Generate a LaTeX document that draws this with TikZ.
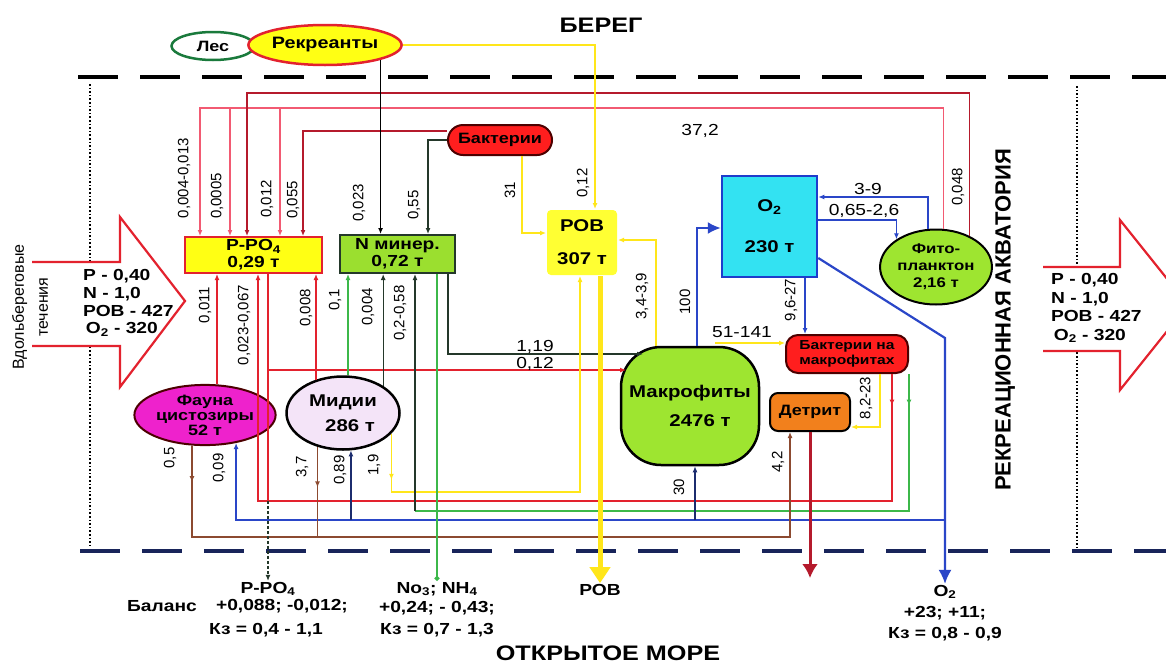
\documentclass[tikz,border=0pt]{standalone}
\usepackage{fontspec}
\setmainfont{Liberation Sans}[FakeStretch=1.2]
\newfontfamily\rotfont{Liberation Sans}
\usetikzlibrary{arrows.meta,decorations.markings,shapes.geometric}
\definecolor{redl}{HTML}{E3222E}
\definecolor{pinkl}{HTML}{F25A72}
\definecolor{dred}{HTML}{B51A2C}
\definecolor{grnl}{HTML}{3CB84A}
\definecolor{bluel}{HTML}{2A46C8}
\definecolor{navyl}{HTML}{1C2C6E}
\definecolor{navyd}{HTML}{18245A}
\definecolor{brnl}{HTML}{8C4A30}
\definecolor{yell}{HTML}{FFE61A}
\definecolor{dkl}{HTML}{24382A}
\definecolor{ppoy}{HTML}{FFFF14}
\definecolor{ngrn}{HTML}{9BDF2F}
\definecolor{baktr}{HTML}{FF1E1E}
\definecolor{rovy}{HTML}{FFFF33}
\definecolor{otwoc}{HTML}{33E2F2}
\definecolor{otwob}{HTML}{1E3CCC}
\definecolor{fitog}{HTML}{9EE530}
\definecolor{detro}{HTML}{F2801C}
\definecolor{faunam}{HTML}{EE22CC}
\definecolor{midiil}{HTML}{F4E4F8}
\definecolor{lesg}{HTML}{1A7A3C}
\newcommand\fsz[2]{\fontsize{#1}{#2}\selectfont}
\tikzset{
  pool/.style   = {draw, line width=2pt, align=center, inner sep=1pt,
                   font=\bfseries\fsz{16}{17}},
  btxt/.style   = {align=center, inner sep=1pt, font=\bfseries\fsz{16}{18}},
  lbl/.style    = {inner sep=1pt, font=\fsz{16}{16}},
  vlbl/.style   = {inner sep=1pt, rotate=90, font=\rotfont\fsz{15}{15}},
  wire/.style   = {line width=1.3pt},
  tip/.style    = {-{Latex[length=6pt,width=5pt]}},
  midtip/.style = {postaction={decorate}, decoration={markings,
                   mark=at position #1 with {\arrow{Latex[length=6pt,width=5pt]}}}},
  shore/.style  = {line width=3.5pt, dash pattern=on 40pt off 22pt},
  bigarrow/.style = {draw=redl, line width=2.2pt, fill=white},
}
\begin{document}
\begin{tikzpicture}[x=1pt,y=-1pt]
\useasboundingbox[fill=white] (0,0) rectangle (1166,664);

% bend points
\foreach \v in {200,217,230,247,258,268,280,303,348,415,428,448,522,580,656,695,697,715,790,805,880,892,928,945}
  \coordinate (c\v) at (\v,0);
\foreach \v in {93,108,197,220,228,233,240,258,338,343,370,427,492,501,511,520,537,578}
  \coordinate (r\v) at (0,\v);
\coordinate (mk119) at (643,354);
\coordinate (mk012) at (626,370);

% coast and open sea borders
\draw[shore] (78,77) -- (1166,77);
\draw[shore,navyd] (80,551) -- (1166,551);
\draw[dotted,line width=1.6pt] (90,84) -- (90,545);
\draw[dotted,line width=1.6pt] (1077,86) -- (1077,548);

% inflow and outflow
\draw[bigarrow] (32,262) -- (120,262) -- (120,217) -- (185,301) -- (120,387) -- (120,346) -- (32,346);
\draw[bigarrow] (1043,267) -- (1120,267) -- (1120,220) -- (1188,305) -- (1120,390) -- (1120,351) -- (1043,351);
\node[btxt,align=left,anchor=west,font=\bfseries\fsz{16}{17.7}] (inflow) at (82,303)
  {P - 0,40\\N - 1,0\\РОВ - 427\\\,O\textsubscript{2} - 320};
\node[btxt,align=left,anchor=west,font=\bfseries\fsz{16}{18.5}] (outflow) at (1050,308)
  {P - 0,40\\N - 1,0\\РОВ - 427\\\,O\textsubscript{2} - 320};
\node[rotate=90,align=center,inner sep=0pt,font=\rotfont\fsz{16}{24}] (along) at (30,307)
  {Вдольбереговые\\течения};
\node[rotate=90,inner sep=0pt,font=\rotfont\bfseries\fsz{22}{22}] (akva) at (1005,320)
  {РЕКРЕАЦИОННАЯ АКВАТОРИЯ};
\node[btxt,font=\bfseries\fsz{21}{21}] (bereg) at (601,25) {БЕРЕГ};
\node[btxt,font=\bfseries\fsz{21}{21}] (more) at (608,653) {ОТКРЫТОЕ МОРЕ};

% pools
\node[pool,ellipse,draw=lesg,line width=2.5pt,fill=white,minimum width=83,minimum height=28,font=\bfseries\fsz{15}{15}] (les) at (213,46) {Лес};
\node[pool,ellipse,draw=redl,line width=2.5pt,fill=ppoy,minimum width=125,minimum height=40,font=\bfseries\fsz{16.5}{16.5}] (rekr) at (325,45) {Рекреанты};
\node[pool,draw=redl,fill=ppoy,minimum width=137,minimum height=36] (ppo) at (253.5,255) {P-PO\textsubscript{4}\\0,29 т};
\node[pool,draw=dkl,fill=ngrn,minimum width=115,minimum height=38] (nmin) at (397.5,254) {N минер.\\0,72 т};
\node[pool,draw=black!70!red,fill=baktr,minimum width=104,minimum height=30,rounded corners=15,font=\bfseries\fsz{15}{15}] (bakt) at (500,140) {Бактерии};
\node[pool,draw=none,fill=rovy,minimum width=70,minimum height=65,rounded corners=4,font=\bfseries\fsz{17}{19}] (rov) at (582,242.5) {РОВ\\[14pt]307 т};
\node[pool,draw=otwob,line width=2.5pt,fill=otwoc,minimum width=95,minimum height=101,font=\bfseries\fsz{17}{19}] (otwo) at (769.5,226.5) {O\textsubscript{2}\\[22pt]230 т};
\node[pool,ellipse,fill=fitog,minimum width=108,minimum height=75,font=\bfseries\fsz{14}{17}] (fito) at (936,267) {Фито-\\планктон\\2,16 т};
\node[pool,draw=black!70!red,fill=baktr,minimum width=122,minimum height=38,rounded corners=12,font=\bfseries\fsz{13}{15}] (baktm) at (847,354) {Бактерии на\\макрофитах};
\node[pool,fill=detro,minimum width=80,minimum height=38,rounded corners=8,font=\bfseries\fsz{15}{15}] (detr) at (810,412) {Детрит};
\node[pool,fill=fitog,line width=2.5pt,minimum width=138,minimum height=118,rounded corners=40,font=\bfseries\fsz{17}{19}] (makro) at (690,406) {Макрофиты\\[10pt]\hspace*{20pt}2476 т};
\node[pool,ellipse,draw=black!70!red,fill=faunam,minimum width=115,minimum height=57,font=\bfseries\fsz{15}{15}] (fauna) at (205,415) {Фауна\\цистозиры\\52 т};
\node[pool,ellipse,line width=2.5pt,fill=midiil,minimum width=113,minimum height=73,font=\bfseries\fsz{17}{19}] (midii) at (343,413) {Мидии\\[6pt]\hspace*{14pt}286 т};

% balance at the open sea border
\node[btxt] (ppoout) at (268,589) {P-PO\textsubscript{4}};
\node[btxt] (balans) at (162,606) {Баланс};
\node[btxt] (ppobal) at (282,606) {+0,088; -0,012;};
\node[btxt] (ppokz) at (266,630) {Кз = 0,4 - 1,1};
\node[btxt] (nout) at (437,589) {No\textsubscript{3}; NH\textsubscript{4}};
\node[btxt] (nbal) at (437,608) {+0,24; - 0,43;};
\node[btxt] (nkz) at (437,630) {Кз = 0,7 - 1,3};
\node[btxt] (rovout) at (600,590) {РОВ};
\node[btxt] (otwoout) at (945,592) {O\textsubscript{2}};
\node[btxt] (otwobal) at (945,613) {+23; +11;};
\node[btxt] (otwokz) at (945,634) {Кз = 0,8 - 0,9};

% feeds into P-PO4 and N from above
\draw[wire,pinkl,tip] (fito.79) |- (c200 |- r108) -- (ppo.north -| c200);
\foreach \v in {230,280}
  \draw[wire,pinkl,tip] (c\v |- r108) -- (ppo.north -| c\v);
\draw[wire,dred,tip] (fito.43) |- (c247 |- r93) -- (ppo.north -| c247);
\draw[wire,dred,tip] ([yshift=9pt]bakt.west) -| (ppo.north -| c303);
\draw[wire,dkl,tip] (bakt.west) -| (nmin.north -| c428);
\draw[wire,tip] (rekr.-15) -- (rekr.-15 |- nmin.north);
\draw[wire,yell,tip] (rekr.east) -| ([xshift=13pt]rov.north);
\draw[wire,yell,tip] (bakt.south -| c522) |- (rov.west |- r233);

% macrophytes, oxygen, plankton
\draw[wire,yell,tip] (makro.north -| c656) |- (rov.east |- r240);
\draw[wire,bluel,line width=2pt,-{Latex[length=13pt,width=12pt]}] (makro.north -| c697) |- (otwo.west |- r228);
\draw[wire,bluel,tip] (otwo.south -| c805) -- (baktm.north -| c805);
\draw[wire,yell,tip] (c715 |- r343) -- (baktm.west |- r343);
\draw[wire,yell,tip] (baktm.south -| c880) |- (detr.east |- r427);
\draw[wire,bluel,tip] (fito.north -| c928) |- (otwo.east |- r197);
\draw[wire,bluel,tip] (otwo.east |- r220) -| (fito.145);
\draw[wire,dkl,tip] (nmin.south -| c448) |- (mk119);
\draw[wire,redl,tip] (ppo.south -| c268) |- (mk012);

% fauna and mussels
\draw[wire,redl,tip] (fauna.north -| c217) -- (ppo.south -| c217);
\draw[wire,redl,tip] (midii.129) -- (midii.129 |- ppo.south);
\draw[wire,grnl,tip] (midii.north -| c348) -- (nmin.south -| c348);
\draw[wire,dkl,tip] (midii.34) -- (midii.34 |- nmin.south);
\draw[wire,yell,midtip=0.1,tip] (midii.-23) |- (c580 |- r492) -- (rov.south -| c580);

% return buses along the sea border
\draw[wire,redl,midtip=0.032,tip] (baktm.south -| c892) |- (c258 |- r501) -- (ppo.south -| c258);
\draw[wire,grnl,midtip=0.05] (baktm.south east) |- (c415 |- r511);
\draw[wire,dkl,tip] (c415 |- r511) -- (nmin.south -| c415);
\draw[wire,bluel,tip] (c945 |- r520) -| (fauna.-42);
\draw[wire,navyl,tip] (midii.-78 |- r520) -- (midii.-78);
\draw[wire,navyl,tip] (c695 |- r520) -- (makro.south -| c695);
\draw[wire,brnl,midtip=0.046,tip] (fauna.-113) -- (fauna.-113 |- r537) -| (detr.south -| c790);
\draw[wire,brnl,midtip=0.45] (midii.-127) -- (midii.-127 |- r537);

% losses to the open sea
\draw[wire,redl] (c268 |- r370) -- (c268 |- r501);
\draw[wire,dkl,densely dashed,tip] (c268 |- r501) -- (ppoout.north);
\draw[wire,grnl,-{Circle[length=5pt]}] (nmin.south -| nout.north) -- (nout.north);
\draw[yell,line width=5pt,-{Triangle[length=16pt,width=20pt]}] (rov.south -| rovout.north) -- (rovout.north);
\draw[dred,line width=3pt,-{Latex[length=14pt,width=16pt]}] (detr.south) -- (detr.south |- r578);
\draw[bluel,line width=2.2pt,-{Latex[length=14pt,width=13pt]}] (otwo.east |- r258) -- (c945 |- r338) -- (otwoout.north);

% flow values
\node[vlbl] at (184,178) {0,004-0,013};
\node[vlbl] at (217,196) {0,0005};
\node[vlbl] at (267,199) {0,012};
\node[vlbl] at (293,200) {0,055};
\node[vlbl] at (359,203) {0,023};
\node[vlbl] at (414,205) {0,55};
\node[vlbl] at (510,190) {31};
\node[vlbl] at (583,183) {0,12};
\node[vlbl] at (958,187) {0,048};
\node[vlbl] at (205,305) {0,011};
\node[vlbl] at (244,325) {0,023-0,067};
\node[vlbl] at (306,308) {0,008};
\node[vlbl] at (335,300) {0,1};
\node[vlbl] at (368,307) {0,004};
\node[vlbl] at (400,313) {0,2-0,58};
\node[vlbl] at (642,296) {3,4-3,9};
\node[vlbl] at (685,302) {100};
\node[vlbl] at (791,300) {9,6-27};
\node[vlbl] at (866,398) {8,2-23};
\node[vlbl] at (778,462) {4,2};
\node[vlbl] at (679,487) {30};
\node[vlbl] at (170,458) {0,5};
\node[vlbl] at (219,468) {0,09};
\node[vlbl] at (302,467) {3,7};
\node[vlbl] at (340,470) {0,89};
\node[vlbl] at (374,465) {1,9};
\node[lbl] at (700,131) {37,2};
\node[lbl] at (535,347) {1,19};
\node[lbl] at (535,364) {0,12};
\node[lbl] at (742,332) {51-141};
\node[lbl] at (868,189) {3-9};
\node[lbl] at (864,211) {0,65-2,6};
\end{tikzpicture}
\end{document}
